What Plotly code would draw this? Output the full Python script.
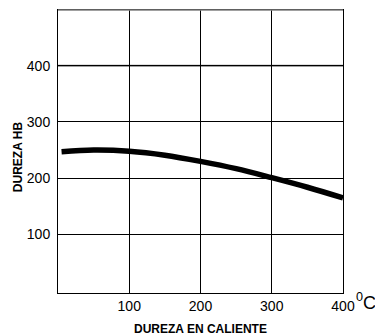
import plotly.graph_objects as go

temp_c = [5, 50, 100, 150, 200, 250, 300, 350, 400]
dureza_hb = [247, 250, 248, 241, 230, 217, 201, 184, 165]
x_ticks = [100, 200, 300, 400]
y_ticks = [100, 200, 300, 400]

FONT = "Liberation Sans, Arial, Helvetica, sans-serif"

fig = go.Figure()
fig.add_trace(go.Scatter(
    x=temp_c, y=dureza_hb, mode="lines",
    line=dict(color="black", width=5.5, shape="spline"),
    showlegend=False, hoverinfo="skip", cliponaxis=True,
))

fig.add_shape(type="line", xref="paper", yref="y", x0=0, x1=1, y0=400, y1=400,
              line=dict(color="#808080", width=2), layer="below")
fig.add_shape(type="line", xref="paper", yref="paper", x0=0, x1=1, y0=1, y1=1,
              line=dict(color="#808080", width=1.5), layer="above")

fig.update_layout(
    template="none",
    width=375, height=336,
    margin=dict(l=58, r=32, t=10, b=43),
    paper_bgcolor="white", plot_bgcolor="white",
    font=dict(family=FONT, color="black", size=14),
    xaxis=dict(range=[0, 400], tickvals=x_ticks, ticktext=[str(v) for v in x_ticks],
               showgrid=True, gridcolor="black", gridwidth=1,
               showline=True, linecolor="black", linewidth=1, mirror=True,
               ticks="", ticklen=0, zeroline=False,
               tickfont=dict(size=14, color="black"), fixedrange=True),
    yaxis=dict(range=[-4, 499], tickvals=y_ticks, ticktext=[str(v) for v in y_ticks],
               showgrid=True, gridcolor="black", gridwidth=1,
               showline=True, linecolor="black", linewidth=1, mirror=True,
               ticks="", ticklen=0, zeroline=False, ticklabelstandoff=4,
               tickfont=dict(size=14, color="black"), fixedrange=True),
)

fig.add_annotation(text="<b>DUREZA EN CALIENTE</b>", xref="paper", yref="paper",
                   x=0.5, y=0, yshift=-36, showarrow=False,
                   font=dict(size=12, family=FONT, color="black"), xanchor="center", yanchor="middle")
fig.add_annotation(text="<b>DUREZA HB</b>", xref="paper", yref="paper",
                   x=0, xshift=-40, y=0.48, showarrow=False, textangle=-90,
                   font=dict(size=12, family=FONT, color="black"), xanchor="center", yanchor="middle")
fig.add_annotation(text="<sup>0</sup>C", xref="paper", yref="paper",
                   x=1, xshift=11, y=0, yshift=-8, showarrow=False,
                   font=dict(size=18, family=FONT, color="black"), xanchor="left", yanchor="middle")

fig.write_html("out.html", config={"displayModeBar": False},
               post_script="document.body.style.margin='0px';")
